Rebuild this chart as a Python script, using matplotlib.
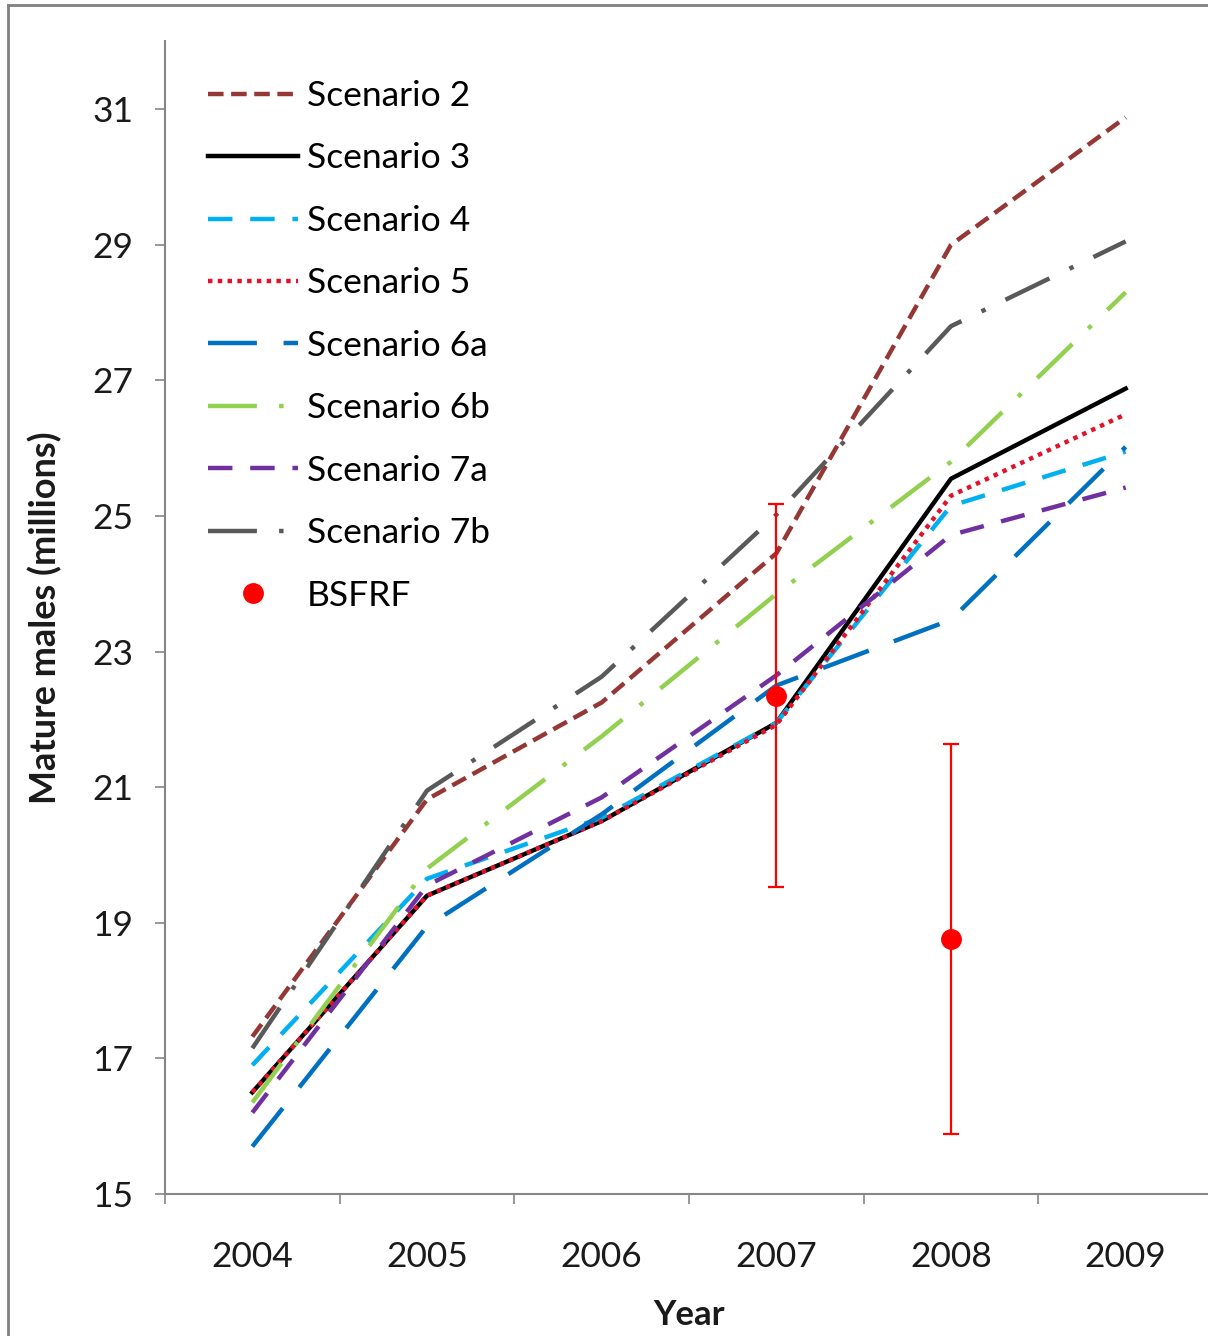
import numpy as np
import matplotlib
matplotlib.use("Agg")
import matplotlib.pyplot as plt
from matplotlib.lines import Line2D

plt.rcParams["font.family"] = ["Lato", "DejaVu Sans"]

# data
years = ["2004", "2005", "2006", "2007", "2008", "2009"]
scen2 = [17.32, 20.82, 22.25, 24.45, 29.00, 30.88]
scen3 = [16.50, 19.40, 20.50, 21.95, 25.55, 26.88]
scen4 = [16.90, 19.65, 20.55, 21.95, 25.15, 25.95]
scen5 = [16.50, 19.40, 20.50, 21.92, 25.30, 26.50]
scen6a = [15.70, 18.95, 20.60, 22.50, 23.47, 26.02]
scen6b = [16.35, 19.80, 21.75, 23.85, 25.80, 28.30]
scen7a = [16.20, 19.55, 20.85, 22.65, 24.72, 25.42]
scen7b = [17.15, 20.95, 22.63, 25.02, 27.80, 29.05]
bsfrf_idx = [3, 4]
bsfrf_val = [22.35, 18.76]
bsfrf_err = [2.82, 2.87]

W, H = 1208, 1336
fig = plt.figure(figsize=(W / 100, H / 100), dpi=100)
ax = fig.add_axes([165 / W, 142 / H, 1048 / W, 0.8627])

x = np.arange(len(years))
lw = 3.2
series = [
    ("Scenario 2", scen2, "#953735", (0, (3.5, 1.7))),
    ("Scenario 3", scen3, "#000000", "-"),
    ("Scenario 4", scen4, "#00B0F0", (0, (5.5, 4))),
    ("Scenario 5", scen5, "#E3122B", (0, (1, 1.2))),
    ("Scenario 6a", scen6a, "#0070C0", (0, (11, 6))),
    ("Scenario 6b", scen6b, "#92D050", (0, (11, 5, 1, 5))),
    ("Scenario 7a", scen7a, "#7030A0", (0, (5.5, 4))),
    ("Scenario 7b", scen7b, "#595959", (0, (11, 5, 1, 5))),
]
for name, vals, col, ls in series:
    ax.plot(x, vals, color=col, lw=lw, linestyle=ls, label=name)

# BSFRF points with error bars
ax.errorbar(bsfrf_idx, bsfrf_val, yerr=bsfrf_err, fmt="none", ecolor="#FF0000",
            elinewidth=1.6, capsize=6, capthick=1.6)
ax.plot(bsfrf_idx, bsfrf_val, "o", color="#FF0000", markersize=14, label="BSFRF")

ax.set_xlim(-0.5, 5.5)
ax.set_ylim(15, 32)
ax.set_yticks(np.arange(15, 32, 2))
ax.set_xticks(x)
ax.set_xticklabels(years)
ax.set_xticks(np.arange(-0.5, 6, 1), minor=True)

for s in ["top", "right"]:
    ax.spines[s].set_visible(False)
for s in ["left", "bottom"]:
    ax.spines[s].set_color("#868686")
    ax.spines[s].set_linewidth(1.5)

ax.tick_params(axis="y", which="major", direction="out", length=7, width=1.2,
               color="#868686", labelsize=25.5, pad=16, labelcolor="#1a1a1a")
ax.tick_params(axis="x", which="major", length=0, labelsize=25.5, pad=34,
               labelcolor="#1a1a1a")
ax.tick_params(axis="x", which="minor", direction="out", length=7, width=1.2,
               color="#868686")

ax.set_ylabel("Mature males (millions)", fontsize=26, fontweight="bold",
              va="center", color="#1a1a1a")
ax.yaxis.set_label_coords(-0.1145, 0.5)
ax.set_xlabel("Year", fontsize=25, fontweight="bold", va="top", color="#1a1a1a")
ax.xaxis.set_label_coords(0.5, -0.091)

ax.legend(loc="upper left", bbox_to_anchor=(208 / W, 1 - 80 / H),
          bbox_transform=fig.transFigure, frameon=False, fontsize=25.5,
          handlelength=2.55, handletextpad=0.25, labelspacing=0.86,
          borderpad=0, borderaxespad=0)

# outer border of the original chart area
fig.add_artist(Line2D([8 / W, 8 / W], [0, 1 - 5 / H], color="#808080", lw=2))
fig.add_artist(Line2D([8 / W, 1], [1 - 5 / H, 1 - 5 / H], color="#808080", lw=2))

fig.savefig("out.png", dpi=100)
